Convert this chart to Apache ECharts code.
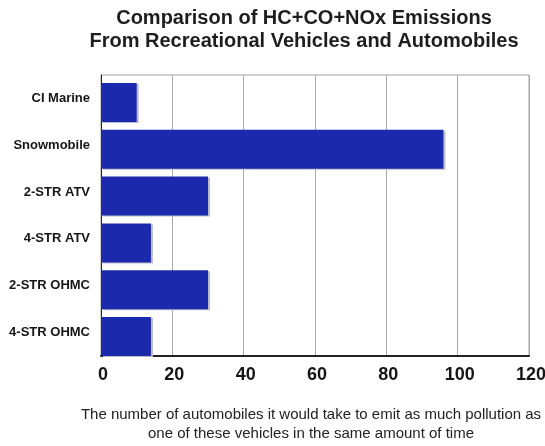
<!DOCTYPE html>
<html><head><meta charset="utf-8">
<script src="https://cdn.jsdelivr.net/npm/echarts@6/dist/echarts.min.js"></script>
<style>html,body{margin:0;padding:0;background:#fff}#c{width:545px;height:446px}</style>
</head><body><div id="c"></div>
<script>
const categories = ['CI Marine', 'Snowmobile', '2-STR ATV', '4-STR ATV', '2-STR OHMC', '4-STR OHMC'];
const values = [10, 96, 30, 14, 30, 14];
const spacer = [0, 0, 0, 0, 0, 0];
const xMin = 0, xMax = 120, xStep = 20;
const titleText = 'Comparison of HC+CO+NOx Emissions\nFrom Recreational Vehicles and Automobiles';
const footText = 'The number of automobiles it would take to emit as much pollution as\none of these vehicles in the same amount of time';

const chart = echarts.init(document.getElementById('c'));
chart.setOption({
  animation: false,
  backgroundColor: '#fff',
  title: [
    { text: titleText, left: 304, top: 7, padding: 0, textAlign: 'center',
      textStyle: { fontFamily: 'Liberation Sans, Arial, sans-serif', fontWeight: 'bold', fontSize: 20, lineHeight: 23, color: '#1e1e1e' } },
    { text: footText, left: 311, top: 405, padding: 0, textAlign: 'center',
      textStyle: { fontFamily: 'Liberation Sans, Arial, sans-serif', fontWeight: 'normal', fontSize: 15, lineHeight: 19, color: '#222' } }
  ],
  grid: { left: 101, right: 16, top: 75, bottom: 90, outerBoundsMode: 'none', containLabel: false, show: true, borderColor: '#a0a0a0', borderWidth: 1, backgroundColor: '#fff' },
  xAxis: {
    type: 'value', min: xMin, max: xMax, interval: xStep,
    axisLine: { show: true, lineStyle: { color: '#222', width: 2 } },
    axisTick: { show: false },
    splitLine: { show: true, lineStyle: { color: '#a8a8a8', width: 1 } },
    axisLabel: { margin: 10, padding: [0, 0, 0, 4], fontFamily: 'Liberation Sans, Arial, sans-serif', fontWeight: 'bold', fontSize: 18, color: '#151515' }
  },
  yAxis: {
    type: 'category', inverse: true, data: categories,
    axisLine: { show: true, lineStyle: { color: '#222', width: 1 } },
    axisTick: { show: false },
    axisLabel: { margin: 11, padding: [7, 0, 0, 0], fontFamily: 'Liberation Sans, Arial, sans-serif', fontWeight: 'bold', fontSize: 13, color: '#151515' }
  },
  series: [
    { type: 'bar', data: spacer, barWidth: 8, barGap: 0, silent: true, itemStyle: { color: 'rgba(0,0,0,0)' } },
    { type: 'bar', data: values, barWidth: 39, barGap: 0,
      itemStyle: { color: '#1b2aac', shadowColor: '#b9bccb', shadowOffsetX: 2, shadowOffsetY: 1, shadowBlur: 0 } }
  ]
});
</script>
</body></html>
